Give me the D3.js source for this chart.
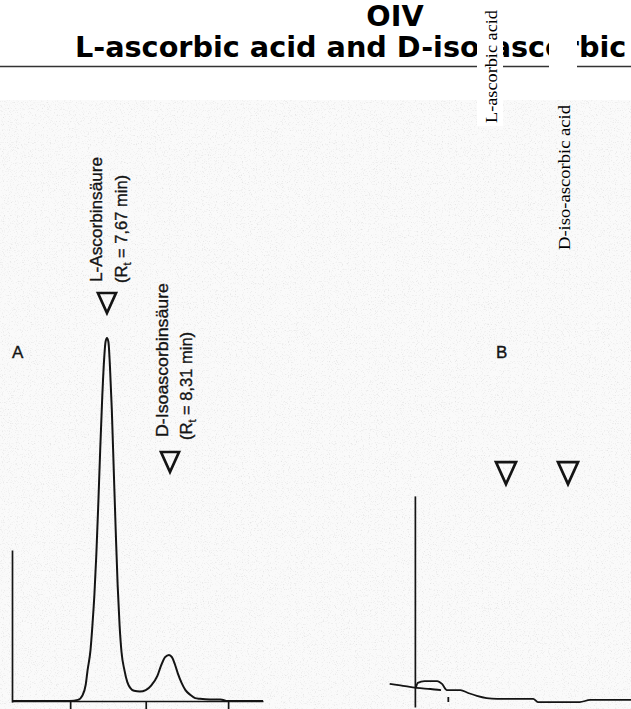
<!DOCTYPE html>
<html>
<head>
<meta charset="utf-8">
<script src="https://cdn.jsdelivr.net/npm/d3@7/dist/d3.min.js"></script>
<style>
  html, body { margin: 0; padding: 0; background: #fff; }
  svg { display: block; }
</style>
</head>
<body>
<svg id="chart" width="631" height="709"></svg>
<script>
// ---- page header ----
const headerOrg = "OIV";
const headerTitle = "L-ascorbic acid and D-iso-ascorbic";
const compoundNotes = ["L-ascorbic acid", "D-iso-ascorbic acid"];

// ---- peaks (retention times in minutes) ----
const peakNames = ["L-Ascorbinsäure", "D-Isoascorbinsäure"];
const peakTimes = [7.67, 8.31];
const peakTimeLabels = ["7,67", "8,31"];
const panelLetters = ["A", "B"];

// ---- chromatogram A (standard) : time [min], detector signal [% of main peak] ----
const runATime = [6.69, 7.29, 7.37, 7.42, 7.45, 7.47, 7.50, 7.52, 7.54, 7.56, 7.58, 7.60, 7.62, 7.64, 7.655,
  7.67, 7.685, 7.70, 7.72, 7.74, 7.76, 7.78, 7.80, 7.82, 7.85, 7.88, 7.91, 7.95, 8.01, 8.07, 8.13, 8.19,
  8.23, 8.27, 8.31, 8.34, 8.37, 8.40, 8.44, 8.48, 8.53, 8.58, 8.63, 8.73, 8.84, 8.87, 8.90, 9.28];
const runASignal = [0, 0, 0.3, 1.7, 4.4, 8.5, 14.0, 20.9, 29.2, 40.2, 54.0, 69.1, 82.9, 93.9, 98.9,
  100, 98.9, 92.6, 80.2, 63.6, 47.1, 32.0, 20.9, 13.5, 8.5, 5.2, 3.6, 2.8, 2.6, 3.0, 4.4, 6.9,
  9.9, 12.1, 12.7, 12.1, 10.2, 7.7, 5.0, 3.0, 1.7, 0.8, 0.6, 0.4, 0.4, 0.3, 0, 0];
const tickTimesA = [7.29, 8.07, 8.92];
const axisTopA = 41.6;
const markerLevelA = [112.4, 68.6];

// ---- chromatogram B (sample) ----
const runBLeadTime = [6.47, 6.58, 6.75, 6.89, 7.00];
const runBLeadSignal = [4.7, 4.3, 3.6, 3.3, 3.0];
const runBTime = [6.74, 6.76, 6.83, 6.96, 7.01, 7.06, 7.20, 7.28, 7.37, 7.47, 7.58, 7.95, 8.00, 8.43, 8.54, 8.96];
const runBSignal = [3.6, 5.0, 5.5, 5.5, 4.7, 3.0, 3.0, 2.2, 1.4, 0.8, 0.6, 0.6, -0.3, -0.3, 0.3, 0.3];
const tickTimesB = [7.07];
const axisRangeB = [-1.65, 56.5];
const markerLevelB = [65.8, 65.8];

const ink = "#141414";
const svg = d3.select("#chart");
const W = 631, H = 709;

// ---- paper grain of the scanned figure ----
const defs = svg.append("defs");
const grain = defs.append("filter").attr("id", "grain")
  .attr("x", 0).attr("y", 0).attr("width", "100%").attr("height", "100%");
grain.append("feTurbulence").attr("type", "fractalNoise")
  .attr("baseFrequency", 0.85).attr("numOctaves", 2).attr("seed", 7).attr("result", "noise");
grain.append("feColorMatrix").attr("in", "noise").attr("type", "matrix")
  .attr("values", "0 0 0 0 0.45  0 0 0 0 0.45  0 0 0 0 0.45  3.2 0 0 0 -1.75");

svg.append("rect").attr("width", W).attr("height", H).attr("fill", "#fff");
svg.append("rect").attr("x", 0).attr("y", 100).attr("width", W).attr("height", H - 100)
  .attr("fill", "#fafafa");
svg.append("rect").attr("x", 0).attr("y", 100).attr("width", W).attr("height", H - 100)
  .attr("filter", "url(#grain)").attr("opacity", 0.3);

// ---- scales ----
const xA = d3.scaleLinear().domain([6.69, 9.28]).range([12, 263]);
const xB = d3.scaleLinear().domain([6.69, 9.28]).range([411, 662]);
const y = d3.scaleLinear().domain([0, 100]).range([701, 338]);

const line = d3.line().curve(d3.curveMonotoneX);

// ---- panel A ----
const gA = svg.append("g");
gA.append("g")
  .attr("transform", `translate(0,${y(0)})`)
  .call(d3.axisBottom(xA).tickValues(tickTimesA).tickSize(9).tickSizeOuter(0).tickFormat(""))
  .call(g => g.selectAll("path, line").attr("stroke", ink).attr("stroke-width", 1.7));

const yAxisA = d3.scaleLinear().domain([-0.3, axisTopA]).range([y(-0.3), y(axisTopA)]);
gA.append("g")
  .attr("transform", `translate(${xA.range()[0]},0)`)
  .call(d3.axisLeft(yAxisA).tickValues([]).tickSizeOuter(0))
  .call(g => g.select(".domain").attr("stroke", ink).attr("stroke-width", 1.7));

gA.append("path")
  .attr("d", line(runATime.map((t, i) => [xA(t), y(runASignal[i])])))
  .attr("fill", "none").attr("stroke", ink).attr("stroke-width", 2)
  .attr("stroke-linejoin", "round");

// ---- panel B ----
const gB = svg.append("g");
const yAxisB = d3.scaleLinear().domain(axisRangeB).range(axisRangeB.map(y));
gB.append("g")
  .attr("transform", `translate(${xB(6.73)},0)`)
  .call(d3.axisLeft(yAxisB).tickValues([]).tickSizeOuter(0))
  .call(g => g.select(".domain").attr("stroke", ink).attr("stroke-width", 1.7));

gB.append("g")
  .attr("transform", `translate(0,${y(1.1)})`)
  .call(d3.axisBottom(xB).tickValues(tickTimesB).tickSize(5).tickSizeOuter(0).tickFormat(""))
  .call(g => g.select(".domain").remove())
  .call(g => g.selectAll("line").attr("stroke", ink).attr("stroke-width", 1.8));

gB.append("path")
  .attr("d", line(runBLeadTime.map((t, i) => [xB(t), y(runBLeadSignal[i])])))
  .attr("fill", "none").attr("stroke", ink).attr("stroke-width", 1.8);
gB.append("path")
  .attr("d", line(runBTime.map((t, i) => [xB(t), y(runBSignal[i])])))
  .attr("fill", "none").attr("stroke", ink).attr("stroke-width", 1.8)
  .attr("stroke-linejoin", "round");

// ---- retention markers (open downward triangles) ----
function marker(g, cx, top, w, h) {
  g.append("path")
    .attr("d", `M${cx - w / 2},${top}H${cx + w / 2}L${cx},${top + h}Z`)
    .attr("fill", "none").attr("stroke", ink).attr("stroke-width", 2.7)
    .attr("stroke-linejoin", "miter");
}
peakTimes.forEach((t, i) => {
  marker(gA, xA(t) + (i === 0 ? 0 : 1), y(markerLevelA[i]), 18, 20);
  marker(gB, xB(t), y(markerLevelB[i]), 20, 22);
});

// ---- peak annotations (rotated, reading upwards) ----
const annoFont = "'Liberation Sans', Arial, sans-serif";
const annoPlacement = [
  { nameX: 102, rtX: 126.5, nameBottom: 282, rtBottom: 283, nameLen: 125 },
  { nameX: 168, rtX: 191.5, nameBottom: 437, rtBottom: 440, nameLen: 154 }
];
peakNames.forEach((name, i) => {
  const p = annoPlacement[i];
  gA.append("text")
    .attr("transform", `translate(${p.nameX},${p.nameBottom}) rotate(-90)`)
    .attr("font-family", annoFont).attr("font-size", 16.5).attr("fill", ink)
    .attr("stroke", ink).attr("stroke-width", 0.35)
    .attr("textLength", p.nameLen).attr("lengthAdjust", "spacingAndGlyphs")
    .text(name);
  const rt = gA.append("text")
    .attr("transform", `translate(${p.rtX},${p.rtBottom}) rotate(-90)`)
    .attr("font-family", annoFont).attr("font-size", 16.5).attr("fill", ink)
    .attr("stroke", ink).attr("stroke-width", 0.35);
  rt.append("tspan").text("(R");
  rt.append("tspan").attr("font-size", 11).attr("dy", 4).text("t");
  rt.append("tspan").attr("dy", -4).text(` = ${peakTimeLabels[i]} min)`);
});

// ---- panel letters ----
svg.append("text").attr("x", 12).attr("y", 358)
  .attr("font-family", annoFont).attr("font-size", 17).attr("fill", ink)
  .attr("stroke", ink).attr("stroke-width", 0.35).text(panelLetters[0]);
svg.append("text").attr("x", 496).attr("y", 358)
  .attr("font-family", annoFont).attr("font-size", 17).attr("fill", ink)
  .attr("stroke", ink).attr("stroke-width", 0.35).text(panelLetters[1]);

// ---- header ----
const headFont = "'DejaVu Sans', Verdana, sans-serif";
svg.append("text").attr("x", 395).attr("y", 26).attr("text-anchor", "middle")
  .attr("font-family", headFont).attr("font-weight", "bold").attr("font-size", 28.7)
  .attr("fill", "#000").text(headerOrg);
svg.append("text").attr("x", 75).attr("y", 57)
  .attr("font-family", headFont).attr("font-weight", "bold").attr("font-size", 28.7)
  .attr("fill", "#000").text(headerTitle);
svg.append("line").attr("x1", 0).attr("x2", W).attr("y1", 66.5).attr("y2", 66.5)
  .attr("stroke", "#333").attr("stroke-width", 1.6);

// white-backed compound notes laid over the header
svg.append("rect").attr("x", 477).attr("y", 0).attr("width", 26).attr("height", 126).attr("fill", "#fff");
svg.append("rect").attr("x", 549).attr("y", 0).attr("width", 28).attr("height", 100).attr("fill", "#fff");
const noteFont = "'Liberation Serif', 'Times New Roman', serif";
svg.append("text").attr("transform", "translate(497,123) rotate(-90)")
  .attr("font-family", noteFont).attr("font-size", 17).attr("fill", "#000")
  .attr("textLength", 113).attr("lengthAdjust", "spacingAndGlyphs").text(compoundNotes[0]);
svg.append("text").attr("transform", "translate(570,250) rotate(-90)")
  .attr("font-family", noteFont).attr("font-size", 17).attr("fill", "#000")
  .attr("textLength", 145).attr("lengthAdjust", "spacingAndGlyphs").text(compoundNotes[1]);
</script>
</body>
</html>
